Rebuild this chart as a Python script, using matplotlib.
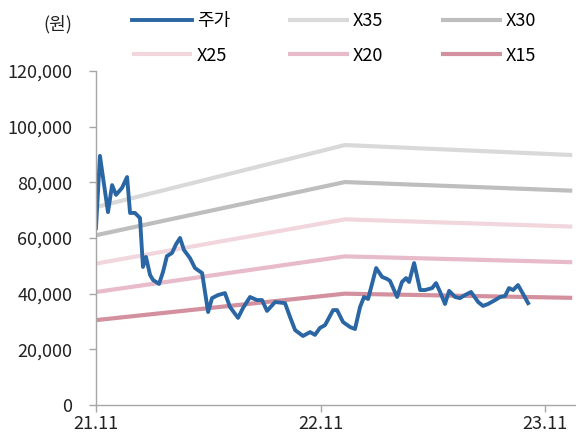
import matplotlib
matplotlib.use("Agg")
import matplotlib.pyplot as plt
from matplotlib.ticker import FuncFormatter

plt.rcParams['font.family'] = ['Noto Sans CJK KR', 'DejaVu Sans']

# x positions are months after 21.11
price_month = [0.00, 0.21, 0.64, 0.86, 1.07, 1.39, 1.66, 1.82, 2.08, 2.35,
               2.51, 2.67, 2.89, 3.05, 3.37, 3.58, 3.79, 4.06, 4.28, 4.49,
               4.70, 5.02, 5.29, 5.67, 5.99, 6.20, 6.52, 6.89, 7.16, 7.59,
               7.86, 8.23, 8.60, 8.87, 9.14, 9.57, 10.10, 10.37, 10.64, 11.06,
               11.44, 11.70, 11.97, 12.24, 12.67, 12.88, 13.20, 13.58, 13.84, 14.11,
               14.32, 14.54, 14.97, 15.29, 15.55, 15.71, 16.09, 16.35, 16.57, 16.73,
               17.00, 17.32, 17.58, 17.96, 18.17, 18.39, 18.65, 18.87, 19.19, 19.45,
               19.72, 20.04, 20.42, 20.68, 20.95, 21.33, 21.59, 21.86, 22.07, 22.29,
               22.55, 22.82, 23.09]
price = [63600, 89500, 69300, 79000, 75500, 78000, 81900, 69000, 69000, 67200,
         49600, 53200, 46700, 44900, 43500, 47800, 53500, 54600, 57800, 60000,
         55700, 52800, 49200, 47400, 33400, 38400, 39500, 40200, 35200, 31300,
         34900, 38800, 37700, 37700, 33800, 37000, 36600, 31600, 26900, 24800,
         26200, 25200, 27700, 28700, 34100, 34100, 29800, 28000, 27300, 35200,
         38800, 38100, 49200, 46000, 45300, 44600, 38800, 44200, 45600, 44200,
         51000, 41300, 41300, 42000, 43800, 40600, 36300, 41000, 38800, 38400,
         39500, 40600, 37000, 35600, 36300, 37700, 38800, 39200, 42000, 41300,
         43100, 39900, 36600]

band_month = [0.0, 13.3, 25.45]
x35 = [71100, 93400, 89800]
x30 = [61000, 80100, 77000]
x25 = [50800, 66700, 64100]
x20 = [40600, 53400, 51300]
x15 = [30500, 40000, 38500]

tick_month = [0, 12, 24]
tick_labels = ['21.11', '22.11', '23.11']

fig = plt.figure(figsize=(5.76, 4.37), dpi=100)
ax = fig.add_axes([96 / 576, 1 - 405 / 437, 1 - 96 / 576, (405 - 71) / 437])

lw = 3.0
l35, = ax.plot(band_month, x35, color='#D9D9D9', lw=lw, label='X35', solid_capstyle='butt')
l30, = ax.plot(band_month, x30, color='#BEBEBE', lw=lw, label='X30', solid_capstyle='butt')
l25, = ax.plot(band_month, x25, color='#F1D6DE', lw=lw, label='X25', solid_capstyle='butt')
l20, = ax.plot(band_month, x20, color='#E7BBCA', lw=lw, label='X20', solid_capstyle='butt')
l15, = ax.plot(band_month, x15, color='#D3909F', lw=lw, label='X15', solid_capstyle='butt')
lp, = ax.plot(price_month, price, color='#2B66A4', lw=2.8, label='주가',
              solid_joinstyle='round')

ax.set_xlim(0, 25.65)
ax.set_ylim(0, 120000)
ax.set_yticks(range(0, 120001, 20000))
ax.yaxis.set_major_formatter(FuncFormatter(lambda v, p: f'{int(v):,}'))
ax.set_xticks(tick_month)
ax.set_xticklabels(tick_labels)

for s in ['top', 'right']:
    ax.spines[s].set_visible(False)
for s in ['left', 'bottom']:
    ax.spines[s].set_color('#A6A6A6')
    ax.spines[s].set_linewidth(1.0)
ax.tick_params(axis='both', colors='#A6A6A6', labelcolor='#222222',
               labelsize=13, length=5, width=1.0)
ax.tick_params(axis='y', pad=12)
ax.tick_params(axis='x', pad=2)

fig.text(58 / 576, 1 - 24 / 437, '(원)', ha='center', va='center',
         fontsize=13, color='#222222')

handles = [lp, l25, l35, l20, l30, l15]
fig.legend(handles=handles, labels=[h.get_label() for h in handles],
           ncol=3, loc='upper left', bbox_to_anchor=(132 / 576, 1 - 12 / 437),
           frameon=False, fontsize=13, handlelength=3.35, handletextpad=0.25,
           columnspacing=3.2, labelspacing=0.92, borderpad=0, borderaxespad=0)

fig.savefig('out.png', dpi=100)
